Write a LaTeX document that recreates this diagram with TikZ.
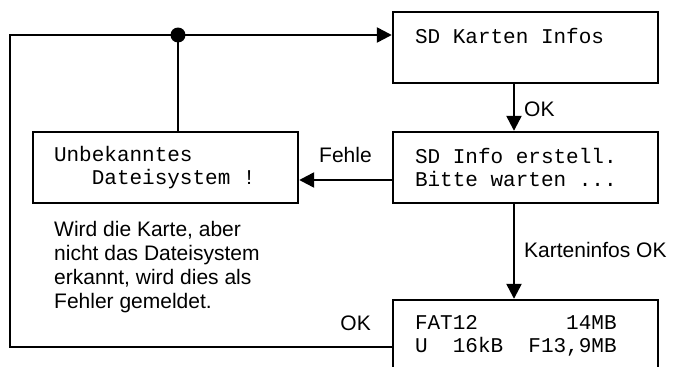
\documentclass[tikz,border=0pt]{standalone}
\usepackage{fontspec}
\setmainfont{Liberation Sans}
\setmonofont{Liberation Mono}
\usetikzlibrary{arrows.meta,positioning}

\newcommand{\leer}[1][1]{\hspace*{#1\dimexpr 0.6em\relax}}

\begin{document}
\begin{tikzpicture}[x=1pt,y=-1pt,line width=2.4pt,
  lcd/.style={draw,text width=221pt,inner xsep=22pt,inner ysep=0pt,minimum height=71pt,
    align=left,font=\ttfamily\fontsize{21}{23}\selectfont},
  beschr/.style={inner sep=0pt,font=\fontsize{21}{24}\selectfont},
  pfeil/.style={-{Triangle[length=15pt,width=15pt]}}]
\useasboundingbox (0,0) rectangle (678,367);
\clip (0,0) rectangle (678,367);

\node[lcd] (infos) at (525.5,47.5) {SD\leer Karten\leer Infos\\\mbox{}};
\node[lcd] (erstell) at (525.5,167.5) {SD\leer Info\leer erstell.\\Bitte\leer warten\leer ...};
\node[lcd] (fat) at (525.5,335.5) {FAT12\leer[7]14MB\\U\leer[2]16kB\leer[2]F13,9MB};
\node[lcd,inner xsep=21pt,text width=223pt] (fehler) at (165.5,167.5)
  {Unbekanntes\\\leer[3]Dateisystem\leer !};

\node[beschr,anchor=north west,align=left] (hinweis) at (53,220)
  {Wird die Karte, aber\\nicht das Dateisystem\\erkannt, wird dies als\\Fehler gemeldet.};

\coordinate (knoten) at (178,35);
\coordinate (ecke) at (10,35);

% Pfeile
\draw[pfeil] ([xshift=-11.5pt]infos.south) -- ([xshift=-11.5pt]erstell.north)
  node[beschr,midway,right=9pt,yshift=-2pt] (ok1) {OK};
\draw[pfeil] ([xshift=-11.5pt]erstell.south) -- ([xshift=-11.5pt]fat.north)
  node[beschr,pos=0.5,right=9pt,yshift=2pt] (ok2) {Karteninfos OK};
\draw[pfeil] ([yshift=-12.5pt]erstell.west) -- ([yshift=-12.5pt]fehler.east)
  node[beschr,pos=0.5,yshift=25pt] (fehle) {Fehle};
\draw[pfeil] ([yshift=-11.5pt]fat.west) -| (ecke) -- (infos.west |- knoten);
\draw (knoten) -- (knoten |- fehler.north);
\fill (knoten) circle (7.5pt);
\node[beschr,anchor=east] (ok3) at (372,323) {OK};
\end{tikzpicture}
\end{document}
